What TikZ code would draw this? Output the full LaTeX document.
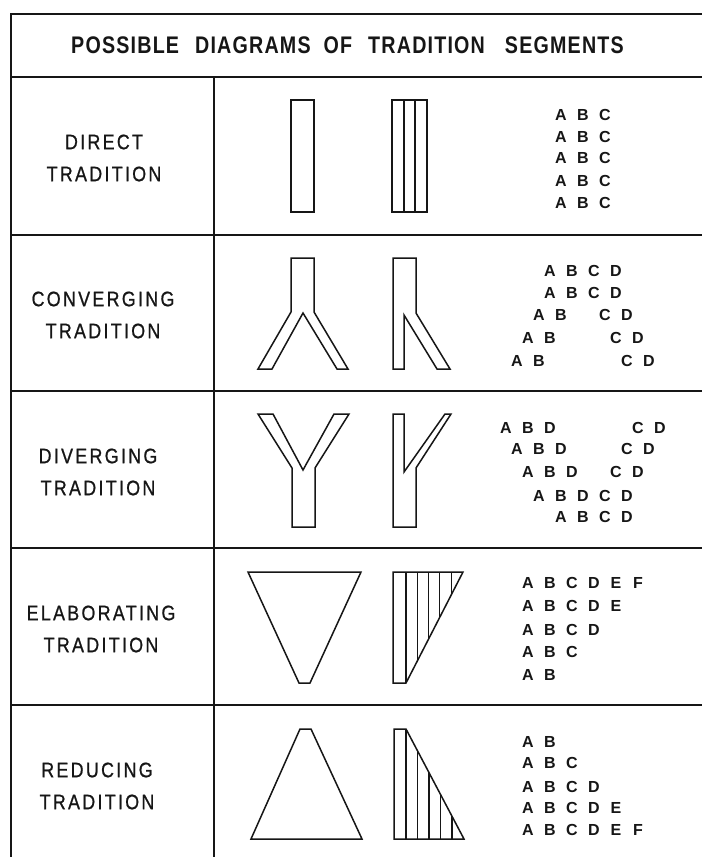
\documentclass[tikz,border=0pt]{standalone}
\usepackage{fontspec}
\setmainfont{Liberation Sans}
\newfontfamily\headfont[FakeStretch=0.82,LetterSpace=5]{Liberation Sans}
\newfontfamily\rowfont[FakeStretch=0.85,LetterSpace=11,FakeBold=0.8]{Liberation Sans}
\usepackage{xcolor}
\usepackage{tikz}
\definecolor{scanink}{HTML}{161616}
\definecolor{scanpaper}{HTML}{FFFFFF}

\tikzset{
  rule/.style={scanink,line width=2.4pt},
  outline/.style={scanink,line width=1.5pt,line join=miter},
  hatch/.style={scanink,line width=1.1pt},
  rowlabel/.style={align=center,text=scanink,font={\rowfont\fontsize{21}{32}\selectfont}},
  segltr/.style={inner sep=0pt,text=scanink,font={\bfseries\fontsize{16}{16}\selectfont}},
}
\newcommand{\segrow}[3]{\foreach \l/\k in {#3}{\node[segltr] (#1-\l\k) at ({517+11*\k},#2) {\l};}}

\begin{document}
\begin{tikzpicture}[x=1pt,y=-1pt]
        \fill[scanpaper] (0,0) rectangle (702,857);
        \useasboundingbox (0,0) rectangle (702,857);
        \draw[rule] (11,14) -- (702,14);
        \foreach \y in {77,235,391,548,705}
          \draw[rule] (11,\y) -- (702,\y);
        \draw[rule] (11,13) -- (11,857);
        \draw[rule] (214,77) -- (214,857);

        \node[text=scanink,font={\headfont\bfseries\fontsize{24}{24}\selectfont}] (title) at (347.5,45.5)
          {POSSIBLE\hspace{16pt}DIAGRAMS\hspace{13pt}OF\hspace{16pt}TRADITION\hspace{20pt}SEGMENTS};

        \node[rowlabel] (lab-direct) at (104,158) {DIRECT\\TRADITION};
        \node[rowlabel] (lab-conv) at (103,315) {CONVERGING\\TRADITION};
        \node[rowlabel] (lab-div) at (98,472) {DIVERGING\\TRADITION};
        \node[rowlabel] (lab-elab) at (101,629) {ELABORATING\\TRADITION};
        \node[rowlabel] (lab-red) at (97,786) {REDUCING\\TRADITION};

        \draw[outline] (291,100) rectangle (314,212);
        \draw[outline] (392,100) rectangle (427,212);
        \draw[hatch] (404,100) -- (404,212) (415,100) -- (415,212);

        \draw[outline] (291,258) -- (314,258) -- (314,312) -- (348,369) -- (337,369) -- (303,313)
          -- (272,369) -- (258,369) -- (291,312) -- cycle;
        \draw[outline] (393,258) -- (416,258) -- (416,313) -- (450,369) -- (437,369) -- (404,315)
          -- (404,369) -- (393,369) -- cycle;

        \draw[outline] (258,414) -- (273,414) -- (303,470) -- (334,414) -- (349,414) -- (315,468)
          -- (315,527) -- (292,527) -- (292,468) -- cycle;
        \draw[outline] (393,414) -- (404,414) -- (404,472) -- (445,414) -- (451,414) -- (416,468)
          -- (416,527) -- (393,527) -- cycle;

        \draw[outline] (248,572) -- (361,572) -- (310,683) -- (299,683) -- cycle;
        \draw[outline] (393,572) -- (463,572) -- (406,683) -- (393,683) -- cycle;
        \foreach \i in {0,...,4}
          \draw[hatch] ({406+11.3*\i},572) -- ({406+11.3*\i},{683-11.3*\i*111/57});

        \draw[outline] (300,729) -- (311,729) -- (362,839) -- (251,839) -- cycle;
        \draw[outline] (394,729) -- (406,729) -- (464,839) -- (394,839) -- cycle;
        \foreach \i in {0,...,4}
          \draw[hatch] ({406+11.5*\i},839) -- ({406+11.5*\i},{729+11.5*\i*110/58});

        \segrow{d1}{115}{A/4,B/6,C/8}
        \segrow{d2}{137}{A/4,B/6,C/8}
        \segrow{d3}{158}{A/4,B/6,C/8}
        \segrow{d4}{181}{A/4,B/6,C/8}
        \segrow{d5}{203}{A/4,B/6,C/8}

        \segrow{c1}{271}{A/3,B/5,C/7,D/9}
        \segrow{c2}{293}{A/3,B/5,C/7,D/9}
        \segrow{c3}{315}{A/2,B/4,C/8,D/10}
        \segrow{c4}{338}{A/1,B/3,C/9,D/11}
        \segrow{c5}{361}{A/0,B/2,C/10,D/12}

        \segrow{v1}{428}{A/-1,B/1,D/3,C/11,D/13}
        \segrow{v2}{449}{A/0,B/2,D/4,C/10,D/12}
        \segrow{v3}{472}{A/1,B/3,D/5,C/9,D/11}
        \segrow{v4}{496}{A/2,B/4,D/6,C/8,D/10}
        \segrow{v5}{517}{A/4,B/6,C/8,D/10}

        \segrow{e1}{583}{A/1,B/3,C/5,D/7,E/9,F/11}
        \segrow{e2}{606}{A/1,B/3,C/5,D/7,E/9}
        \segrow{e3}{630}{A/1,B/3,C/5,D/7}
        \segrow{e4}{652}{A/1,B/3,C/5}
        \segrow{e5}{675}{A/1,B/3}

        \segrow{r1}{742}{A/1,B/3}
        \segrow{r2}{763}{A/1,B/3,C/5}
        \segrow{r3}{787}{A/1,B/3,C/5,D/7}
        \segrow{r4}{808}{A/1,B/3,C/5,D/7,E/9}
        \segrow{r5}{830}{A/1,B/3,C/5,D/7,E/9,F/11}
      \end{tikzpicture}
\end{document}
